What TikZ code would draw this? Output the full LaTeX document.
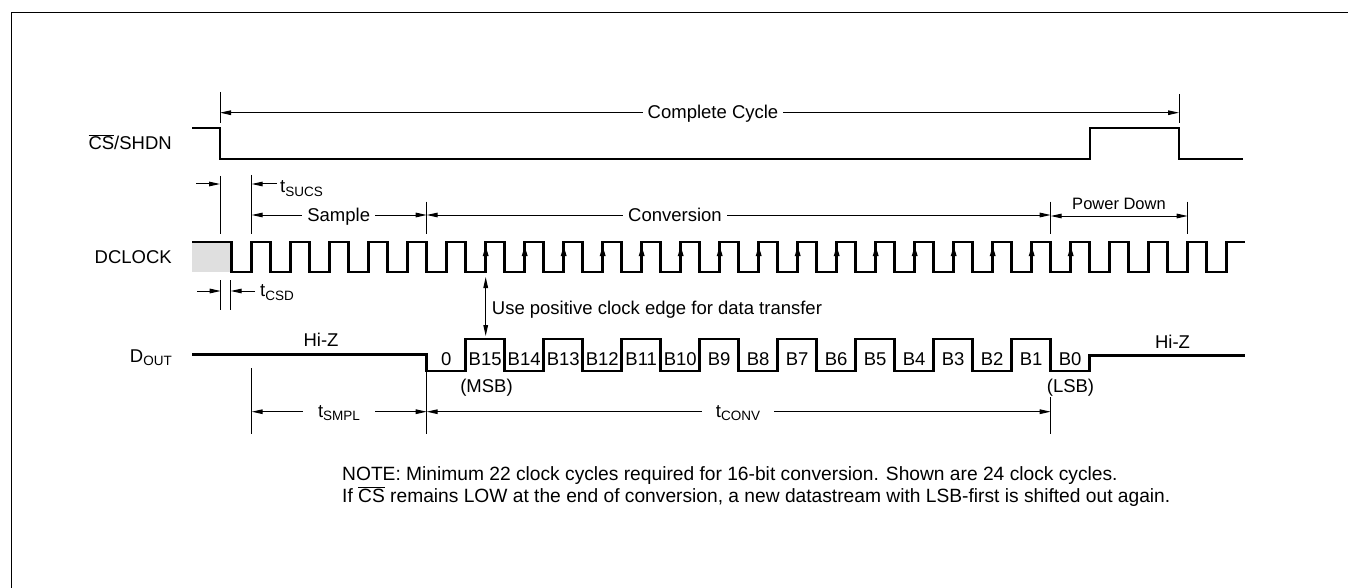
\documentclass[tikz,border=0pt]{standalone}
\usepackage{fontspec}
\setmainfont{Liberation Sans}
\usetikzlibrary{arrows.meta}
\newcommand{\lsub}[1]{\raisebox{-3.5pt}{\fontsize{13.5}{13.5}\selectfont #1}}
\newcommand{\csbar}{$\overline{\hbox{CS}}$}
\begin{document}
\begin{tikzpicture}[x=1pt,y=-1pt,
  sig/.style={line width=2.6pt, line join=miter},
  tick/.style={line width=0.9pt},
  dimline/.style={line width=1pt, {Triangle[length=11pt,width=4.6pt]}-{Triangle[length=11pt,width=4.6pt]}},
  rdim/.style={line width=1pt, -{Triangle[length=11pt,width=4.6pt]}},
  txt/.style={font=\fontsize{18.5}{22}\selectfont, inner sep=0pt, text=black},
  ntxt/.style={font=\fontsize{19.2}{22}\selectfont, inner sep=0pt, text=black},
  stxt/.style={font=\fontsize{16.5}{20}\selectfont, inner sep=0pt, text=black},
  gaptxt/.style={txt, fill=white, inner xsep=5pt, inner ysep=2pt},
]
\useasboundingbox (0,0) rectangle (1348,588);
% frame
\draw[line width=1.5pt] (11.5,600) -- (11.5,12.5) -- (1360,12.5);

% signal names
\node[txt, anchor=base east] (lcs) at (172,149.5) {\csbar/SHDN};
\node[txt, anchor=base east] (lclk) at (172,263.5) {DCLOCK};
\node[txt, anchor=base east] (ldout) at (172,362.3) {D\lsub{OUT}};

% CS waveform
\draw[sig] (192,128) -- (220,128) -- (220,159) -- (1090,159) -- (1090,128) -- (1179,128) -- (1179,159) -- (1243,159);

% DCLOCK waveform
\fill[gray!25] (192,242) rectangle (231.7,272);
\draw[sig] (192,242) -- (231.7,242) -- (231.7,272)
  \foreach \k in {0,...,24} { -- ({251.7+39*\k},272) -- ({251.7+39*\k},242) -- ({270.7+39*\k},242) -- ({270.7+39*\k},272) }
  -- (1226.7,272) -- (1226.7,242) -- (1245,242);
\foreach \k in {6,...,21} {
  \fill ({251.7+39*\k},246.5) -- ++(3,9.5) -- ++(-6,0) -- cycle;
}

% DOUT waveform
\draw[sig] (192,354.5) -- (426.7,354.5) -- (426.7,371)
  \foreach \j in {1,3,...,15} { -- ({426.7+39*\j},371) -- ({426.7+39*\j},339) -- ({465.7+39*\j},339) -- ({465.7+39*\j},371) }
  -- (1089.7,371) -- (1089.7,355.5) -- (1245,355.5);
\foreach \lab [count=\j from 0] in {0,B15,B14,B13,B12,B11,B10,B9,B8,B7,B6,B5,B4,B3,B2,B1,B0} {
  \node[txt, anchor=base] (bit\j) at ({446.2+39*\j},365) {\lab};
}
\node[txt, anchor=base] (msb) at (486.5,392.5) {(MSB)};
\node[txt, anchor=base] (lsb) at (1070.5,392.5) {(LSB)};
\node[txt, anchor=base] (hiz1) at (321,346.7) {Hi-Z};
\node[txt, anchor=base] (hiz2) at (1172.5,348) {Hi-Z};

% Complete cycle
\coordinate (ccL) at (220,112.7);
\coordinate (ccR) at (1179,112.7);
\draw[tick] (220,92) -- (220,123);
\draw[tick] (1179,94) -- (1179,123);
\draw[dimline] (ccL) -- (ccR);
\node[gaptxt, anchor=base] (cc) at (713,119) {Complete Cycle};

% tSUCS
\draw[tick] (220,176) -- (220,234);
\draw[tick] (251.7,175) -- (251.7,234);
\coordinate (suA) at (196,184);
\coordinate (suB) at (220,184);
\coordinate (suC) at (277,184);
\coordinate (suD) at (251.7,184);
\draw[rdim] (suA) -- (suB);
\draw[rdim] (suC) -- (suD);
\node[txt, anchor=base west] (tsucs) at (280,193) {t\lsub{SUCS}};

% Sample / Conversion / Power Down
\draw[tick] (426.7,201.7) -- (426.7,234);
\draw[tick] (1050.7,201.7) -- (1050.7,234);
\draw[tick] (1187.7,201.7) -- (1187.7,234);
\coordinate (smpL) at (251.7,215);
\coordinate (smpR) at (426.7,215);
\coordinate (cnvR) at (1050.7,215);
\coordinate (pdL) at (1050.7,216);
\coordinate (pdR) at (1187.7,216);
\draw[dimline] (smpL) -- (smpR);
\draw[dimline] (smpR) -- (cnvR);
\draw[dimline] (pdL) -- (pdR);
\node[gaptxt, anchor=base] (sample) at (338.7,221.5) {Sample};
\node[gaptxt, anchor=base] (conv) at (675,221.5) {Conversion};
\node[stxt, anchor=base] (pd) at (1119,209.3) {Power Down};

% tCSD
\draw[tick] (220.7,280) -- (220.7,310);
\draw[tick] (230.7,280) -- (230.7,310);
\coordinate (csA) at (197,291);
\coordinate (csB) at (220.7,291);
\coordinate (csC) at (255,291);
\coordinate (csD) at (230.7,291);
\draw[rdim] (csA) -- (csB);
\draw[rdim] (csC) -- (csD);
\node[txt, anchor=base west] (tcsd) at (260,296.7) {t\lsub{CSD}};

% positive clock edge
\coordinate (peT) at (485.7,277);
\coordinate (peB) at (485.7,336);
\draw[dimline] (peT) -- (peB);
\node[txt, anchor=base west] (pos) at (491.7,314.3) {Use positive clock edge for data transfer};

% tSMPL / tCONV
\draw[tick] (251.7,368) -- (251.7,434);
\draw[tick] (426.7,371) -- (426.7,434);
\draw[tick] (1050.7,397) -- (1050.7,434);
\coordinate (tsL) at (251.7,411.7);
\coordinate (tsR) at (426.7,411.7);
\coordinate (tcR) at (1050.7,411.7);
\draw[dimline] (tsL) -- (tsR);
\draw[dimline] (tsR) -- (tcR);
\node[gaptxt, anchor=base, inner xsep=15pt] (tsmpl) at (339,417) {t\lsub{SMPL}};
\node[gaptxt, anchor=base, inner xsep=14pt] (tconv) at (738,417) {t\lsub{CONV}};

% note
\node[ntxt, anchor=base west] (note1) at (342,480.5) {NOTE: Minimum 22 clock cycles required for 16-bit conversion. Shown are 24 clock cycles.};
\node[ntxt, anchor=base west] (note2) at (342,502.5) {If \csbar{} remains LOW at the end of conversion, a new datastream with LSB-first is shifted out again.};
\end{tikzpicture}
\end{document}
